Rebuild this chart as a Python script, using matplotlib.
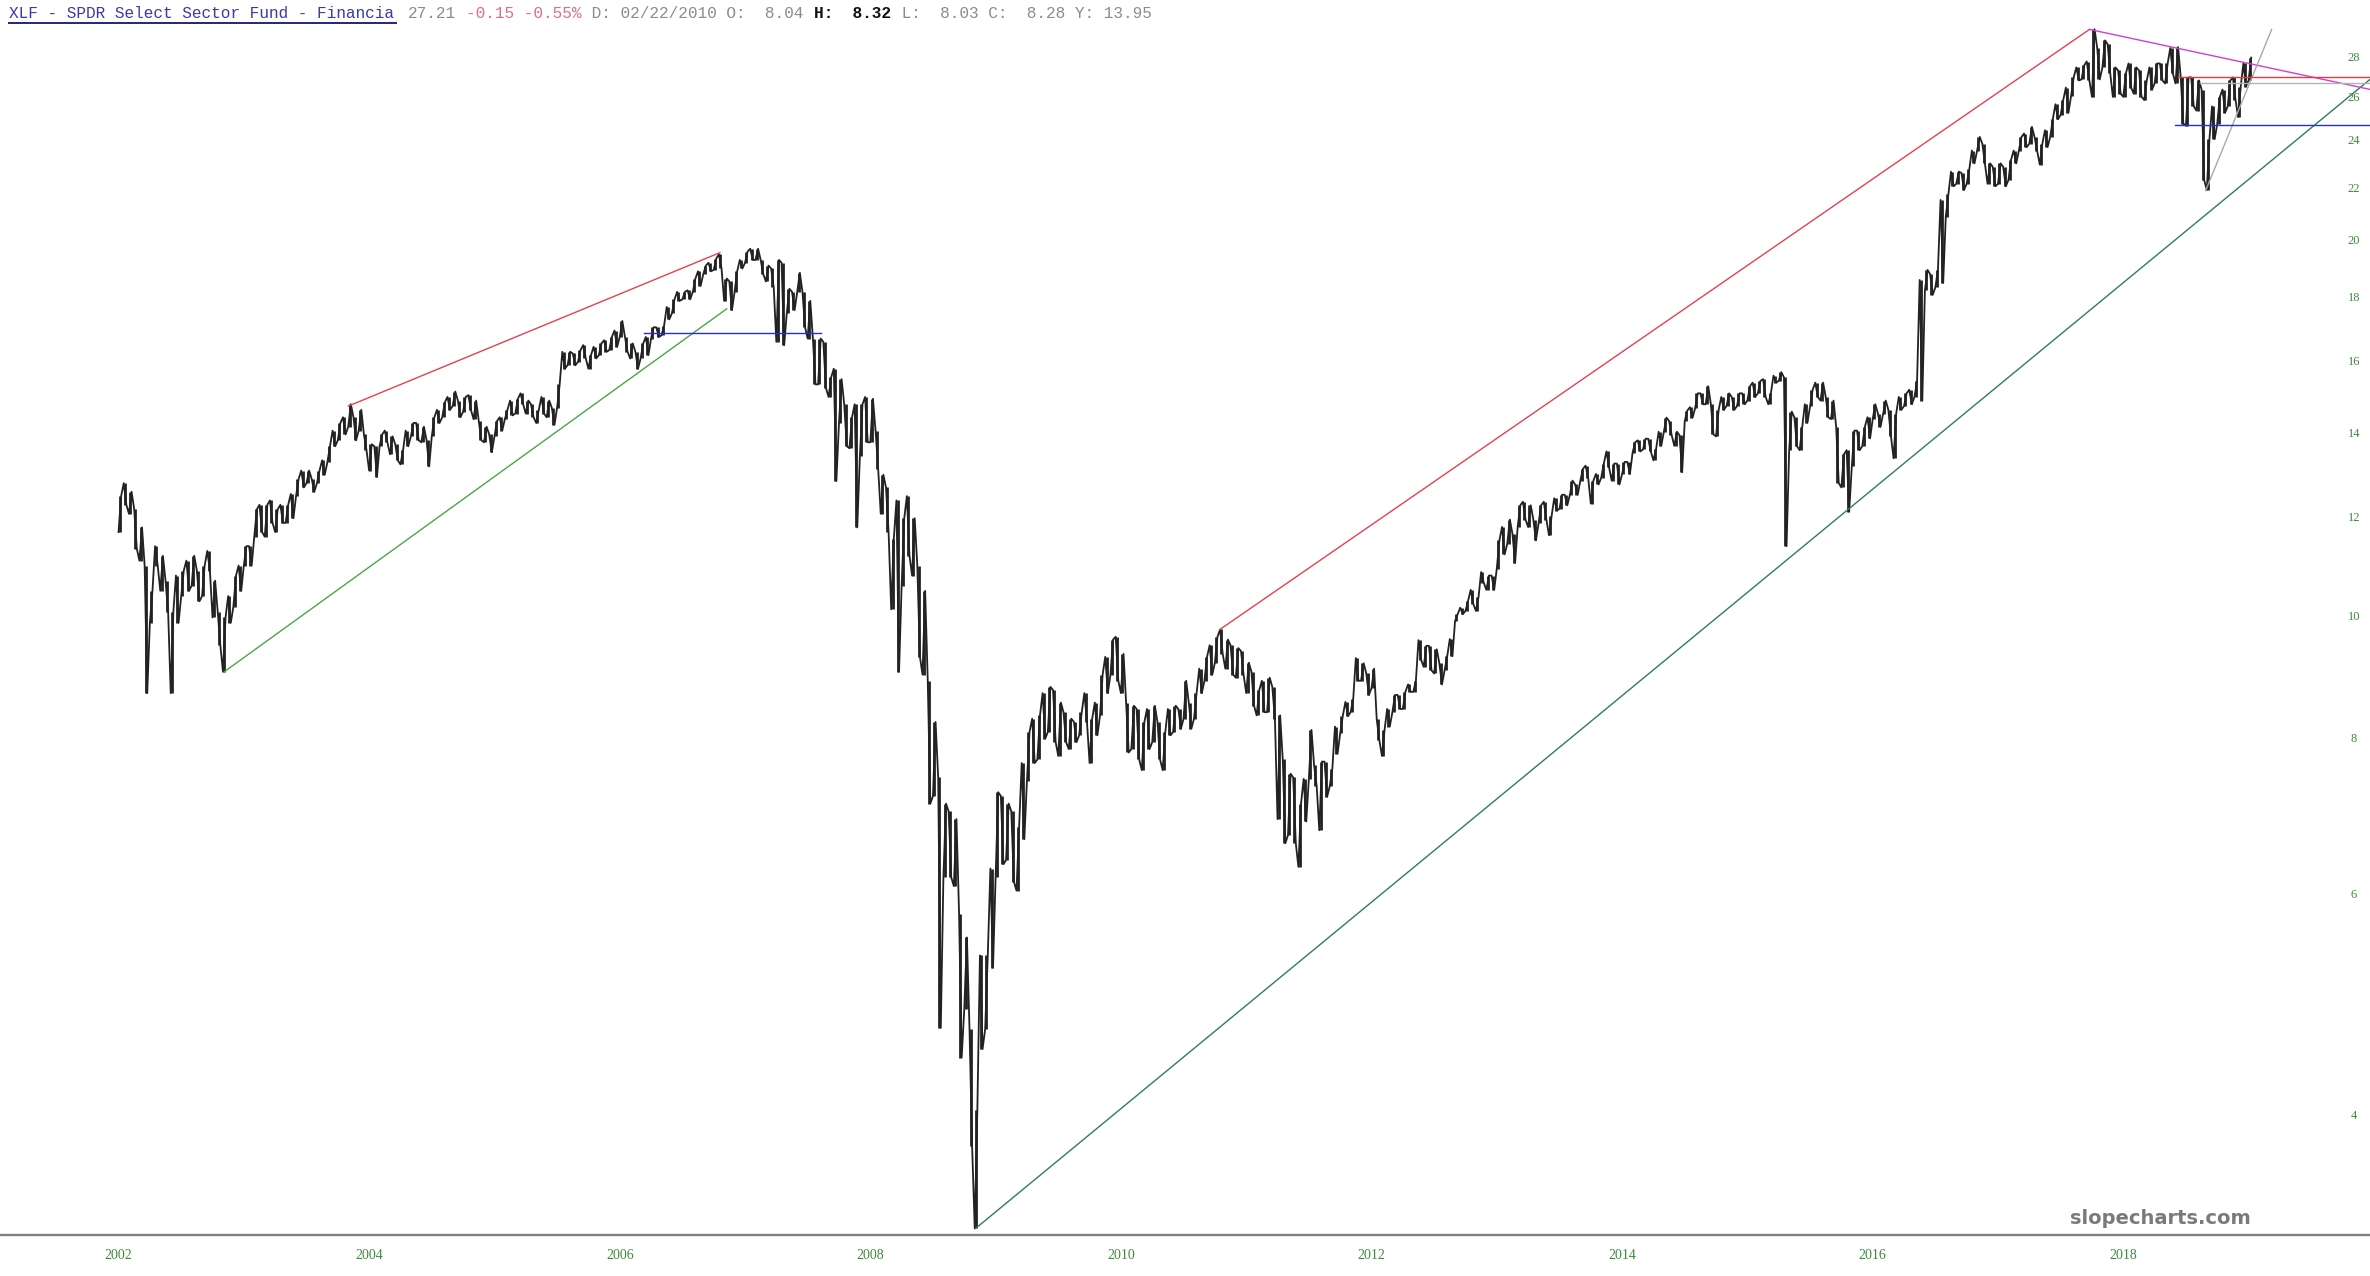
import matplotlib
matplotlib.use("Agg")
import matplotlib.pyplot as plt
from matplotlib.ticker import NullLocator
import numpy as np

# ---------------- data (semi-monthly bars) ----------------
first_year = 2002
bars_per_year = 24

hi_2002 = [12.5, 12.8, 12.6, 12.2, 11.8, 11.0, 10.5, 11.4, 11.2, 10.7, 10.1, 10.8,
           10.9, 11.1, 11.2, 10.9, 11.0, 11.3, 10.7, 10.1, 10.0, 10.4, 10.8, 11.0]
lo_2002 = [11.7, 12.3, 12.1, 11.35, 11.1, 8.7, 9.9, 11.0, 10.5, 10.1, 8.7, 9.9,
           10.4, 10.5, 10.6, 10.3, 10.4, 10.9, 10.0, 9.5, 9.05, 9.9, 10.2, 10.5]
hi_2003 = [11.4, 11.4, 12.2, 12.3, 12.3, 12.4, 12.2, 12.3, 12.3, 12.55, 12.9, 13.1,
           13.1, 12.9, 13.1, 13.35, 13.7, 14.1, 14.3, 14.45, 14.8, 14.45, 14.65, 14.0]
lo_2003 = [11.0, 11.0, 11.6, 11.7, 11.6, 11.9, 11.7, 11.9, 11.9, 12.0, 12.5, 12.7,
           12.8, 12.6, 12.8, 13.0, 13.3, 13.7, 13.85, 14.0, 14.2, 13.85, 14.1, 13.6]
hi_2004 = [13.75, 13.7, 14.0, 14.1, 13.95, 13.75, 13.6, 14.1, 14.3, 14.3, 14.2, 13.85,
           14.45, 14.65, 14.85, 15.0, 15.15, 14.9, 15.0, 15.05, 14.9, 14.35, 14.2, 14.0]
lo_2004 = [13.1, 12.95, 13.7, 13.8, 13.5, 13.35, 13.25, 13.7, 13.95, 13.85, 13.8, 13.2,
           13.95, 14.3, 14.45, 14.65, 14.75, 14.45, 14.6, 14.65, 14.4, 13.85, 13.8, 13.55]
hi_2005 = [14.35, 14.45, 14.65, 14.9, 14.95, 15.1, 14.9, 14.8, 14.65, 15.0, 14.9, 14.7,
           15.35, 16.3, 16.3, 16.25, 16.35, 16.5, 16.2, 16.45, 16.55, 16.65, 16.75, 16.95]
lo_2005 = [13.95, 14.1, 14.4, 14.5, 14.55, 14.8, 14.55, 14.45, 14.3, 14.55, 14.45, 14.25,
           14.7, 15.8, 15.9, 15.9, 16.0, 16.1, 15.8, 16.1, 16.2, 16.3, 16.35, 16.45]
hi_2006 = [17.25, 16.75, 16.55, 16.3, 16.55, 16.75, 17.05, 17.05, 17.1, 17.7, 17.95, 18.2,
           18.2, 18.25, 18.65, 18.9, 19.1, 19.2, 19.35, 19.5, 18.65, 18.55, 18.9, 19.3]
lo_2006 = [16.75, 16.3, 16.1, 15.8, 16.1, 16.2, 16.7, 16.75, 16.8, 17.3, 17.5, 17.9,
           17.95, 17.95, 18.2, 18.4, 18.8, 18.9, 18.95, 19.0, 17.9, 17.6, 18.2, 19.0]
hi_2007 = [19.6, 19.7, 19.7, 19.3, 19.1, 19.0, 19.3, 19.2, 18.3, 18.2, 18.85, 18.2,
           17.9, 16.7, 16.7, 16.6, 15.55, 15.8, 15.5, 14.8, 14.45, 14.8, 14.8, 15.0]
lo_2007 = [19.2, 19.3, 19.3, 18.8, 18.55, 18.35, 16.6, 16.5, 17.5, 17.6, 18.2, 17.05,
           16.7, 15.35, 15.35, 15.25, 15.0, 12.85, 14.3, 13.7, 13.65, 11.8, 13.45, 13.8]
hi_2008 = [14.95, 14.1, 13.0, 12.7, 11.55, 12.4, 12.0, 12.5, 12.0, 11.0, 10.5, 8.9,
           8.25, 7.45, 7.1, 7.0, 6.9, 5.8, 5.55, 4.69, 4.04, 5.37, 5.37, 6.3]
lo_2008 = [13.8, 13.15, 12.1, 11.7, 10.15, 9.05, 10.6, 11.2, 10.8, 9.3, 9.0, 7.1,
           7.2, 4.7, 6.2, 6.2, 6.1, 4.45, 4.87, 3.78, 3.25, 4.52, 4.69, 5.25]
hi_2009 = [7.25, 7.2, 7.1, 7.0, 6.8, 7.65, 8.1, 8.3, 8.35, 8.7, 8.8, 8.75,
           8.55, 8.4, 8.3, 8.25, 8.4, 8.7, 8.3, 8.55, 9.0, 9.3, 9.6, 9.65]
lo_2009 = [6.2, 6.35, 6.4, 6.15, 6.05, 6.65, 7.4, 7.65, 7.7, 8.0, 8.1, 7.95,
           7.75, 7.95, 7.85, 7.95, 8.05, 8.25, 7.65, 8.05, 8.35, 8.7, 9.0, 8.9]
hi_2010 = [9.35, 8.55, 8.5, 8.45, 8.25, 8.45, 8.5, 8.25, 8.1, 8.45, 8.5, 8.45,
           8.9, 8.55, 8.7, 9.1, 9.3, 9.5, 9.65, 9.78, 9.6, 9.5, 9.45, 9.4]
lo_2010 = [8.7, 7.8, 7.85, 7.7, 7.55, 7.85, 7.95, 7.7, 7.55, 8.05, 8.1, 8.15,
           8.3, 8.15, 8.3, 8.7, 8.9, 9.0, 9.2, 9.35, 9.1, 9.0, 8.95, 9.0]
hi_2011 = [9.2, 9.05, 8.75, 8.9, 8.95, 8.8, 8.35, 7.7, 7.5, 7.45, 7.1, 7.43,
           8.13, 7.62, 7.67, 7.67, 7.57, 8.18, 8.34, 8.56, 8.61, 9.28, 9.19, 9.02]
lo_2011 = [8.7, 8.5, 8.35, 8.4, 8.4, 8.3, 6.9, 6.6, 6.7, 6.6, 6.32, 6.87,
           7.43, 7.33, 6.76, 7.19, 7.33, 7.78, 8.08, 8.34, 8.4, 8.9, 8.9, 8.67]
hi_2012 = [9.1, 8.29, 8.13, 8.45, 8.67, 8.67, 8.72, 8.84, 8.9, 9.59, 9.49, 9.49,
           9.43, 9.19, 9.31, 9.61, 10.06, 10.18, 10.31, 10.52, 10.38, 10.87, 10.8, 10.8]
lo_2012 = [8.78, 7.98, 7.75, 8.18, 8.4, 8.45, 8.45, 8.72, 8.72, 9.25, 9.13, 9.07,
           9.02, 8.84, 9.07, 9.31, 9.93, 10.06, 10.12, 10.25, 10.12, 10.66, 10.52, 10.52]
hi_2013 = [11.52, 11.81, 11.97, 11.66, 12.29, 12.37, 12.29, 11.97, 12.29, 12.37, 12.05, 12.45,
           12.53, 12.53, 12.86, 12.77, 13.14, 13.22, 12.86, 13.02, 13.27, 13.57, 13.27, 13.27]
lo_2013 = [10.94, 11.23, 11.45, 11.05, 11.81, 11.97, 11.81, 11.52, 11.89, 11.97, 11.63, 12.17,
           12.21, 12.29, 12.53, 12.53, 12.86, 12.93, 12.33, 12.77, 12.93, 13.18, 12.86, 12.77]
hi_2014 = [13.31, 13.31, 13.8, 13.85, 13.89, 13.89, 13.62, 14.07, 14.44, 14.35, 14.07, 13.98,
           14.63, 14.72, 15.1, 15.1, 15.3, 14.8, 14.65, 15.0, 15.1, 15.0, 15.1, 15.1]
lo_2014 = [13.02, 13.02, 13.53, 13.57, 13.62, 13.57, 13.35, 13.71, 14.07, 13.98, 13.71, 13.06,
           14.35, 14.44, 14.7, 14.8, 14.8, 14.0, 13.95, 14.65, 14.75, 14.65, 14.75, 14.8]
hi_2015 = [15.3, 15.4, 15.45, 15.5, 15.1, 15.6, 15.7, 15.55, 14.6, 14.45, 14.2, 14.8,
           15.2, 15.4, 15.4, 15.0, 14.9, 14.2, 13.5, 13.6, 14.1, 14.1, 14.2, 14.45]
lo_2015 = [14.9, 15.0, 15.1, 15.0, 14.8, 15.4, 15.45, 11.4, 13.6, 13.7, 13.6, 14.3,
           14.75, 15.0, 14.9, 14.45, 14.4, 12.8, 12.7, 12.15, 13.2, 13.6, 13.7, 13.9]
hi_2016 = [14.8, 14.55, 14.9, 14.65, 14.55, 15.0, 15.1, 15.2, 15.45, 18.6, 18.95, 18.8,
           18.95, 21.55, 21.8, 22.7, 22.7, 22.65, 22.8, 23.6, 24.2, 23.9, 23.05, 22.9]
lo_2016 = [14.4, 14.2, 14.55, 13.95, 13.4, 14.65, 14.75, 14.8, 15.0, 14.9, 18.25, 18.1,
           18.35, 18.5, 20.9, 22.1, 22.2, 21.95, 22.2, 23.05, 23.6, 23.05, 22.2, 22.1]
hi_2017 = [23.05, 22.9, 23.2, 23.6, 24.2, 24.35, 24.65, 24.2, 23.9, 24.5, 25.0, 25.7,
           25.9, 26.5, 27.0, 27.5, 27.6, 27.8, 29.5, 28.5, 28.9, 28.7, 27.5, 27.35]
lo_2017 = [22.2, 22.1, 22.35, 23.05, 23.6, 23.75, 23.9, 23.6, 23.0, 23.75, 24.2, 25.0,
           25.2, 25.3, 26.1, 26.85, 26.9, 26.85, 26.05, 26.9, 27.5, 27.2, 26.05, 26.2]
hi_2018 = [27.2, 27.7, 27.5, 27.35, 26.85, 27.5, 27.7, 27.7, 27.7, 28.5, 28.55, 27.0,
           27.0, 27.0, 26.85, 26.4, 24.1, 25.6, 26.05, 26.4, 26.85, 27.0, 26.55, 27.7]
lo_2018 = [26.05, 26.5, 26.2, 26.05, 25.9, 26.4, 26.7, 26.85, 26.7, 27.2, 26.7, 24.8,
           24.7, 25.6, 25.4, 22.35, 21.95, 24.1, 24.8, 25.3, 25.6, 25.9, 25.1, 26.55]
hi_2019 = [28.0]
lo_2019 = [26.85]

# trend lines drawn on the chart: (start year, start price, end year, end price)
red_lines = [(2003.834, 14.75, 2006.80, 19.56), (2010.79, 9.78, 2017.73, 29.49)]
green_short = (2002.845, 9.05, 2006.854, 17.64)
green_long = (2008.84, 3.25, 2019.969, 26.9)
magenta_line = (2017.73, 29.49, 2019.969, 26.41)
grey_diag = (2018.657, 21.92, 2019.184, 29.49)
blue_levels = [(2006.19, 2007.61, 16.87), (2018.41, 2019.969, 24.73)]
red_level = (2018.44, 2019.969, 27.03)
grey_level = (2018.61, 2019.969, 26.70)

price_ticks = [4, 6, 8, 10, 12, 14, 16, 18, 20, 22, 24, 26, 28]
year_ticks = [2002, 2004, 2006, 2008, 2010, 2012, 2014, 2016, 2018]

header_title = "XLF - SPDR Select Sector Fund - Financia"
header_parts = [("27.21", "#8c8c8c", "normal"), (" ", "#8c8c8c", "normal"),
                ("-0.15 -0.55%", "#e07080", "normal"),
                (" D: 02/22/2010 O:  8.04 ", "#8c8c8c", "normal"),
                ("H:  8.32", "#111111", "bold"),
                (" L:  8.03 C:  8.28 Y: 13.95", "#8c8c8c", "normal")]

# ---------------- assemble ----------------
highs = (hi_2002 + hi_2003 + hi_2004 + hi_2005 + hi_2006 + hi_2007 + hi_2008 + hi_2009 +
         hi_2010 + hi_2011 + hi_2012 + hi_2013 + hi_2014 + hi_2015 + hi_2016 + hi_2017 +
         hi_2018 + hi_2019)
lows = (lo_2002 + lo_2003 + lo_2004 + lo_2005 + lo_2006 + lo_2007 + lo_2008 + lo_2009 +
        lo_2010 + lo_2011 + lo_2012 + lo_2013 + lo_2014 + lo_2015 + lo_2016 + lo_2017 +
        lo_2018 + lo_2019)
n = len(highs)
t = first_year + np.arange(n) / bars_per_year
half = 0.5 / bars_per_year

W, H, DPI = 2370, 1276, 100
fig = plt.figure(figsize=(W / DPI, H / DPI), dpi=DPI, facecolor="white")
ax = fig.add_axes([0, 41 / H, 1, 1235 / H])
ax.set_facecolor("white")
ax.set_yscale("log")
ax.set_xlim(2001.054, 2019.969)
ax.set_ylim(3.211, 31.13)

# price bars
zx, zy = [], []
for i in range(n):
    a, b = (lows[i], highs[i]) if i % 2 == 0 else (highs[i], lows[i])
    zx += [t[i], t[i] + half]
    zy += [a, b]
bar_col = "#222222"
ax.plot(zx, zy, color=bar_col, lw=1.3, zorder=3)
ax.vlines(t + half / 2, lows, highs, color=bar_col, lw=2.0, zorder=3)

lw = 1.0
for (x0, y0, x1, y1) in red_lines:
    ax.plot([x0, x1], [y0, y1], color="#e8404f", lw=lw, zorder=4)
ax.plot(green_short[0::2], green_short[1::2], color="#4aa64a", lw=lw, zorder=4)
ax.plot(green_long[0::2], green_long[1::2], color="#2e7d5e", lw=lw, zorder=4)
ax.plot(magenta_line[0::2], magenta_line[1::2], color="#d040d0", lw=lw, zorder=4)
ax.plot(grey_diag[0::2], grey_diag[1::2], color="#a8a8a8", lw=lw, zorder=4)
for (x0, x1, y) in blue_levels:
    ax.plot([x0, x1], [y, y], color="#2a2ae0", lw=lw, zorder=4)
ax.plot(red_level[:2], [red_level[2]] * 2, color="#e83a3a", lw=lw, zorder=4)
ax.plot(grey_level[:2], [grey_level[2]] * 2, color="#b4b4b4", lw=lw, zorder=4)

# axes styling
for s in ["top", "left", "right"]:
    ax.spines[s].set_visible(False)
ax.spines["bottom"].set_color("#808080")
ax.spines["bottom"].set_linewidth(1.7)
ax.yaxis.set_major_locator(NullLocator())
ax.yaxis.set_minor_locator(NullLocator())
ax.set_xticks(year_ticks)
ax.set_xticklabels([str(y) for y in year_ticks])
ax.tick_params(axis="x", length=0, pad=10, labelsize=10, labelcolor="#3d8b3d")
for lab in ax.get_xticklabels():
    lab.set_family("Liberation Serif")

ytr = ax.get_yaxis_transform()
for p in price_ticks:
    ax.text(0.99325, p, str(p), transform=ytr, ha="center", va="center",
            fontsize=9, color="#3d8b3d", family="Liberation Serif", zorder=5)

# header (monospace, one character = 9.67 px)
cw = 9.67
def ftext(xpx, s, color, weight="normal"):
    fig.text(xpx / W, 1 - 13 / H, s, ha="left", va="center", fontsize=11.6,
             family="Liberation Mono", color=color, weight=weight)

ftext(9, header_title, "#3a3aa6")
fig.add_artist(plt.Line2D([9 / W, (9 + cw * len(header_title)) / W],
                          [1 - 23 / H, 1 - 23 / H], color="#26267a", lw=1.4))
pos = 408
for s, c, wgt in header_parts:
    ftext(pos, s, c, wgt)
    pos += cw * len(s)

fig.text(2160 / W, 1 - 1219 / H, "slopecharts.com", ha="center", va="center",
         fontsize=14, weight="bold", color="#7a7a7a", family="DejaVu Sans")

fig.savefig("out.png", dpi=DPI, facecolor="white")
